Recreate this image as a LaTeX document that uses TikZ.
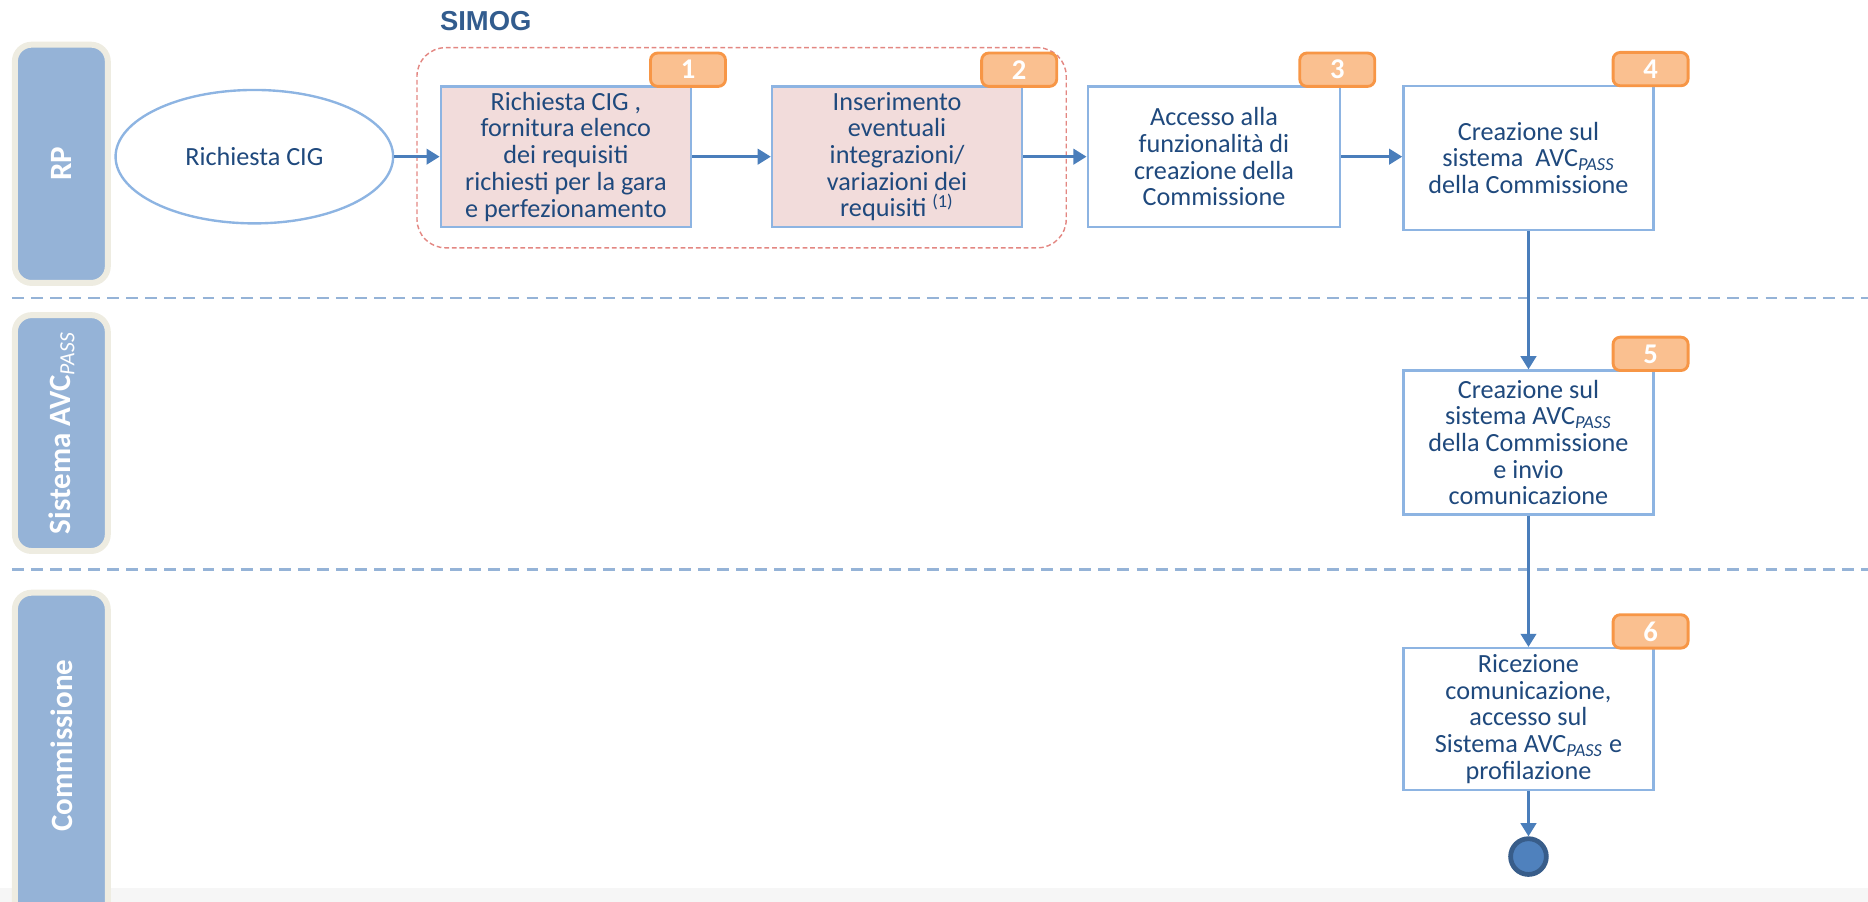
\documentclass[tikz,border=0pt]{standalone}
\usepackage{fontspec}
\setmainfont{Carlito}
\newfontfamily\arialfont{Liberation Sans}
\usetikzlibrary{arrows.meta,shapes.geometric,calc}
\definecolor{txtblue}{RGB}{31,73,125}
\definecolor{boxline}{RGB}{141,180,226}
\definecolor{pinkfill}{RGB}{242,220,219}
\definecolor{badgefill}{RGB}{250,192,144}
\definecolor{badgeline}{RGB}{247,150,70}
\definecolor{arrowblue}{RGB}{74,126,187}
\definecolor{laneblue}{RGB}{149,179,215}
\definecolor{lanebeige}{RGB}{238,236,225}
\definecolor{simogred}{RGB}{227,135,130}
\definecolor{simogtext}{RGB}{50,92,142}
\definecolor{endblue}{RGB}{79,129,189}
\definecolor{enddark}{RGB}{56,93,138}
\definecolor{stripgray}{RGB}{246,246,246}
\begin{document}
\begin{tikzpicture}[x=0.5pt,y=-0.5pt,
  stepbox/.style={draw=boxline, line width=1pt, minimum width=105pt, minimum height=59pt,
    inner sep=2pt, align=center, text=txtblue, font=\fontsize{11}{11.2}\selectfont},
  pinkbox/.style={stepbox, fill=pinkfill},
  whitebox/.style={stepbox, fill=white},
  badge/.style={draw=badgeline, fill=badgefill, line width=1.2pt, rounded corners=3pt,
    minimum width=31.5pt, minimum height=14pt, inner sep=0pt, text=white,
    font=\bfseries\fontsize{12}{12}\selectfont},
  flow/.style={draw=arrowblue, line width=1.1pt, -{Triangle[length=5.5pt,width=6.5pt]}},
  lane/.style={draw=lanebeige, fill=laneblue, line width=2.5pt, rounded corners=7pt,
    minimum width=39pt, inner sep=0pt},
  lanetext/.style={text=white, font=\bfseries\fontsize{13}{13}\selectfont, rotate=90, inner sep=0pt},
  sepline/.style={draw=laneblue, line width=1pt, dash pattern=on 5pt off 3pt}
]
\useasboundingbox (0,0) rectangle (1568,757);
\clip (0,0) rectangle (1568,757);
\fill[stripgray] (0,745) rectangle (1568,757);

% lanes
\node[lane, minimum height=100pt] (laneRP) at (51.5,137.5) {};
\node[lanetext] (lblRP) at (laneRP.center) {RP};
\node[lane, minimum height=99pt] (laneSys) at (51.5,363.5) {};
\node[lanetext] (lblSys) at (laneSys.center) {Sistema AVC\textsubscript{\textit{\mdseries PASS}}};
\node[lane, minimum height=140pt] (laneCom) at (51.5,637.5) {};
\node[lanetext] (lblCom) at (51.5,626) {Commissione};

% separators
\draw[sepline] (10,250) -- (1568,250);
\draw[sepline] (10,478) -- (1568,478);

% SIMOG group
\node[draw=simogred, dash pattern=on 2pt off 1.2pt, line width=0.6pt, rounded corners=12pt,
  minimum width=272.5pt, minimum height=84pt] (simog) at (622.5,124) {};
\node[anchor=west, inner sep=0pt, text=simogtext, font=\arialfont\bfseries\fontsize{11.5}{12}\selectfont] (simoglbl) at (369,18) {SIMOG};

% start
\node[ellipse, draw=boxline, fill=white, line width=1pt, minimum width=116.5pt, minimum height=56pt,
  inner sep=0pt, text=txtblue, font=\fontsize{11}{11.2}\selectfont] (start) at (213.5,131.5) {Richiesta CIG};

% steps
\node[pinkbox] (b1) at (475,131.5) {Richiesta CIG ,\\fornitura elenco\\dei requisiti\\richiesti per la gara\\e perfezionamento};
\node[pinkbox] (b2) at (753,131.5) {Inserimento\\eventuali\\integrazioni/\\variazioni dei\\requisiti \textsuperscript{(1)}};
\node[whitebox, minimum width=106pt] (b3) at (1019,131.5) {Accesso alla\\funzionalità di\\creazione della\\Commissione};
\node[whitebox, minimum height=60.5pt] (b4) at (1283,132.5) {Creazione sul\\sistema \ AVC\textsubscript{\textit{PASS}}\\della Commissione};
\node[whitebox, minimum height=60.5pt] (b5) at (1283,371.5) {Creazione sul\\sistema AVC\textsubscript{\textit{PASS}}\\della Commissione\\e invio\\comunicazione};
\node[whitebox, minimum height=59.5pt] (b6) at (1283,603.5) {Ricezione\\comunicazione,\\accesso sul\\Sistema AVC\textsubscript{\textit{PASS}} e\\profilazione};

% badges
\node[badge] (n1) at ($(b1.north east)+(-3.5,-13)$) {1};
\node[badge] (n2) at ($(b2.north east)+(-3.5,-13)$) {2};
\node[badge] (n3) at ($(b3.north east)+(-3.5,-13)$) {3};
\node[badge] (n4) at ($(b4.north east)+(-3.5,-13)$) {4};
\node[badge] (n5) at ($(b5.north east)+(-3.5,-13)$) {5};
\node[badge] (n6) at ($(b6.north east)+(-3.5,-13)$) {6};

% end
\node[circle, draw=enddark, fill=endblue, line width=2pt, minimum size=15pt, inner sep=0pt] (endpt) at (1283,719) {};

% flows
\draw[flow] (start.east) -- (b1.west);
\draw[flow] (b1.east) -- (b2.west);
\draw[flow] (b2.east) -- (b3.west);
\draw[flow] (b3.east) -- (b3.east -| b4.west);
\draw[flow] (b4.south) -- (b5.north);
\draw[flow] (b5.south) -- (b6.north);
\draw[flow] (b6.south) -- (endpt.north);
\end{tikzpicture}
\end{document}
